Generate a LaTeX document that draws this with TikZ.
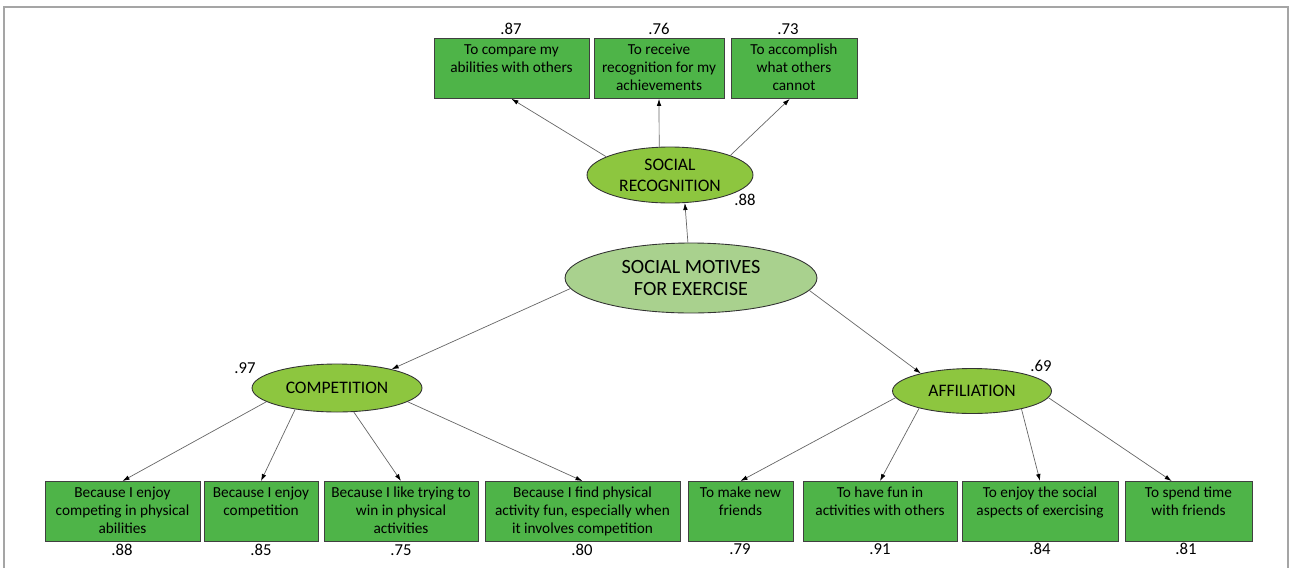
\documentclass[tikz,border=0pt]{standalone}
\usepackage{fontspec}
\setmainfont{Carlito}
\usepackage{xcolor}
\usepackage{tikz}
\usetikzlibrary{arrows.meta}
\usetikzlibrary{shapes.geometric}

\definecolor{itemgreen}{RGB}{78,180,72}
\definecolor{factorgreen}{RGB}{141,198,63}
\definecolor{motivegreen}{RGB}{169,209,142}
\definecolor{framegray}{RGB}{165,165,165}

% item text hangs from its first line
\newcommand{\itemlines}[1]{\begin{tabular}[t]{@{}c@{}}#1\end{tabular}}

\tikzset{
    item/.style={draw=black!75, fill=itemgreen, line width=0.5pt,
        minimum width=#1, inner xsep=0pt, inner ysep=0.04cm,
        text height=0.28cm, text depth=0.84cm, anchor=north,
        font=\fontsize{8.7}{10.2}\selectfont},
    factor/.style={ellipse, draw=black!80, fill=factorgreen, line width=0.5pt,
        inner sep=0pt, align=center, font=\fontsize{10}{12}\selectfont},
    load/.style={inner sep=0pt, font=\fontsize{9.5}{11}\selectfont},
    link/.style={draw=black!60, line width=0.4pt,
        -{Latex[length=4pt, width=2.6pt, color=black]}}
}

\begin{document}
\begin{tikzpicture}[x=0.02cm, y=-0.02cm]
                \useasboundingbox (0,0) rectangle (1293,568);
                % Frame
                \draw[framegray, line width=1.1pt] (4,568) -- (4,7) -- (1288,7) -- (1288,568);

                % Factors
                \node[factor, fill=motivegreen, minimum width=5.04cm, minimum height=1.4cm,
                    font=\fontsize{11.5}{13}\selectfont] (motives) at (691,278) {SOCIAL MOTIVES\\FOR EXERCISE};
                \node[factor, minimum width=3.32cm, minimum height=1.12cm] (recog) at (670,175) {SOCIAL\\RECOGNITION};
                \node[factor, minimum width=3.4cm, minimum height=0.96cm] (comp) at (337,388) {COMPETITION};
                \node[factor, minimum width=3.18cm, minimum height=0.9cm] (affil) at (972,391) {AFFILIATION};
                \node[load] (recogv) at (745,200) {.88};
                \node[load] (compv) at (245,368) {.97};
                \node[load] (affilv) at (1041,366) {.69};

                % Social recognition items
                \node[item=3.1cm] (sr1) at (511.5,38) {\itemlines{To compare my\\abilities with others}};
                \node[item=2.6cm] (sr2) at (659,38) {\itemlines{To receive\\recognition for my\\achievements}};
                \node[item=2.52cm] (sr3) at (794,38) {\itemlines{To accomplish\\what others\\cannot}};
                \node[load] (sr1v) at (511,29) {.87};
                \node[load] (sr2v) at (659,29) {.76};
                \node[load] (sr3v) at (788,29) {.73};

                % Competition items
                \node[item=3.1cm] (c1) at (122.5,481) {\itemlines{Because I enjoy\\competing in physical\\abilities}};
                \node[item=2.28cm] (c2) at (261,481) {\itemlines{Because I enjoy\\competition}};
                \node[item=3.08cm] (c3) at (401,481) {\itemlines{Because I like trying to\\win in physical\\activities}};
                \node[item=3.9cm] (c4) at (582.5,481) {\itemlines{Because I find physical\\activity fun, especially when\\it involves competition}};
                \node[load] (c1v) at (122,550) {.88};
                \node[load] (c2v) at (261,550) {.85};
                \node[load] (c3v) at (401,550) {.75};
                \node[load] (c4v) at (582,550) {.80};

                % Affiliation items
                \node[item=2.1cm] (a1) at (740.5,481) {\itemlines{To make new\\friends}};
                \node[item=3.08cm] (a2) at (880,481) {\itemlines{To have fun in\\activities with others}};
                \node[item=3.12cm] (a3) at (1040,481) {\itemlines{To enjoy the social\\aspects of exercising}};
                \node[item=2.54cm] (a4) at (1188.5,481) {\itemlines{To spend time\\with friends}};
                \node[load] (a1v) at (740,549) {.79};
                \node[load] (a2v) at (880,549) {.91};
                \node[load] (a3v) at (1040,549) {.84};
                \node[load] (a4v) at (1186,549) {.81};

                % Paths
                \draw[link] (motives.95) -- (recog.298);
                \draw[link] (motives.185) -- (comp.19);
                \draw[link] (motives.354) -- (affil.161);
                \foreach \src/\dst in {recog.164/sr1.south, recog.111/sr2.south, recog.18/sr3.262,
                    comp.191/c1.north, comp.207/c2.north, comp.305/c3.north, comp.349/c4.north,
                    affil.185/a1.north, affil.198/a2.north, affil.340/a3.north, affil.355/a4.119} {
                    \draw[link] (\src) -- (\dst);
                }
            \end{tikzpicture}
\end{document}
